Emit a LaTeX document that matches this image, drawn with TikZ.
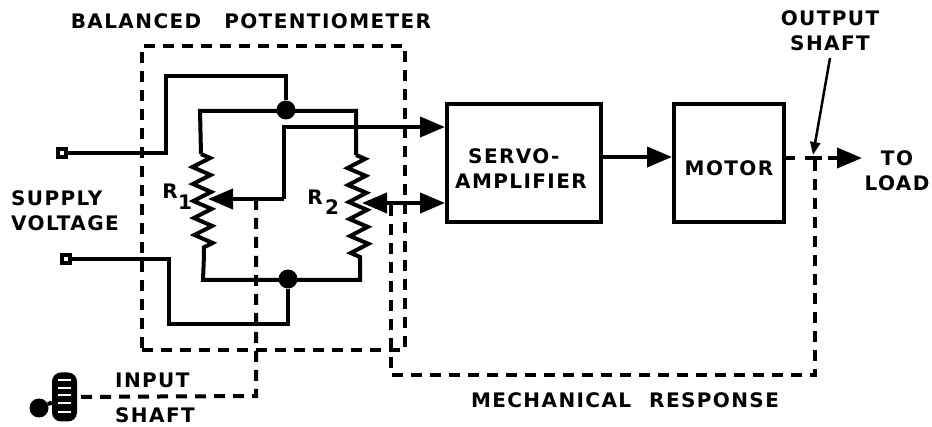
\documentclass[tikz,border=0pt]{standalone}
\usepackage{fontspec}
\setmainfont{DejaVu Sans}
\usetikzlibrary{arrows.meta, positioning, shapes.geometric, decorations.pathmorphing}
\newcommand{\labelfont}{\fontsize{20}{18}\selectfont\bfseries\addfontfeature{LetterSpace=7}}

\begin{document}
\begin{tikzpicture}[
    x=1pt, y=-1pt,
    block/.style={
        rectangle,
        draw=black,
        line width=4pt,
        minimum height=118pt,
        align=center,
        inner sep=0pt,
        font=\labelfont
    },
    wire/.style={line width=4pt, line join=miter},
    shaft/.style={line width=4pt, dash pattern=on 11pt off 8pt},
    arrow/.style={wire, -{Triangle[length=25pt, width=20pt]}},
    resistor/.style={wire, decorate, decoration={zigzag, segment length=17pt, amplitude=9pt}},
    joint/.style={circle, fill=black, inner sep=0pt, minimum size=19pt},
    terminal/.style={rectangle, draw=black, fill=white, line width=4pt, inner sep=0pt, minimum size=8pt},
    txt/.style={inner sep=0pt, align=left, font=\labelfont}
]
\useasboundingbox (0,0) rectangle (932,427);

% blocks
\node[block, minimum width=154pt, anchor=north west] (servo) at (445,102) {};
\node[block, minimum width=110pt, right=69pt of servo] (motor) {};
\node[txt, anchor=west] (servotext) at (455,169) {\hspace*{13pt}SERVO-\\[7pt]AMPLIFIER};
\node[txt] (motortext) at (729,168) {MOTOR};

% potentiometer box
\node[rectangle, draw=black, shaft, minimum width=263pt, minimum height=304pt, anchor=center, inner sep=0pt, outer sep=0pt] (pot) at (273.5,198) {};

% terminals and joints
\node[terminal] (supplya) at (62,153) {};
\node[terminal] (supplyb) at (66,259) {};
\node[joint] (topjoint) at (286,110) {};
\node[joint] (botjoint) at (288,279) {};

% resistors
\coordinate (r1top) at (201,154);
\coordinate (r1bot) at (204,255);
\coordinate (r2top) at (356,155);
\coordinate (r2bot) at (360,260);
\coordinate (r1wiper) at (208,199);
\coordinate (r2wiper) at (362,203);
\draw[resistor] (r1top) -- (r1bot);
\draw[resistor] (r2top) -- (r2bot);

% bridge wiring
\draw[wire] (supplya) -- (166,153) -- (166,76) -- (286,76) -- (topjoint);
\draw[wire] (r1top) -- (200,111) -- (356,111) -- (r2top);
\draw[wire] (r1bot) -- (203,280) -- (360,280) -- (r2bot);
\draw[wire] (supplyb) -- (169,259) -- (169,324) -- (288,324) -- (botjoint);

% signal lines
\draw[arrow] (284,199) -- (r1wiper);
\draw[arrow] (284,199) -- (284,127) -- (servo.west |- 0,127);
\draw[arrow] (400,203) -- (r2wiper);
\draw[arrow] (400,203) -- (servo.west |- 0,203);
\draw[arrow] (servo.east |- 0,157) -- (motor.west |- 0,157);

% mechanical linkage
\node[rectangle, rounded corners=9pt, fill=black, minimum width=25pt, minimum height=49pt, inner sep=0pt] (knob) at (64.5,397) {};
\foreach \y in {380,388,395,403,412}
    \draw[white, line width=2.5pt] (58,\y) -- (71,\y);
\node[circle, fill=black, inner sep=0pt, minimum size=19pt] (handle) at (39,408) {};
\draw[wire] (handle) -- (knob);
\draw[shaft] (256,199) -- (256,396) -- (knob);
\draw[shaft] (391,205) -- (391,375) -- (815,375) -- (815,158);
\draw[wire, dash pattern=on 9pt off 10pt on 17pt off 6pt] (motor.east |- 0,158) -- (828,158);
\draw[arrow] (828,158) -- (862,158);
\draw[line width=2.5pt, -{Triangle[length=13pt, width=10pt]}] (830,58) -- (813,155);

% labels
\node[txt] (title) at (251,21) {BALANCED\hspace{23pt}POTENTIOMETER};
\node[txt, anchor=west] (supply) at (11,211) {SUPPLY\\[7pt]VOLTAGE};
\node[txt] (rone) at (170,191) {R};
\node[txt] (ronesub) at (185,202) {1};
\node[txt] (rtwo) at (315,197) {R};
\node[txt] (rtwosub) at (332,207) {2};
\node[txt, anchor=west] (inputlabel) at (115,380) {INPUT};
\node[txt, anchor=west] (shaftlabel) at (115,415) {SHAFT};
\node[txt, align=center] (outputlabel) at (830,31) {OUTPUT\\[7pt]SHAFT};
\node[txt, align=center] (loadlabel) at (897,171) {TO\\[7pt]LOAD};
\node[txt] (mechanical) at (625,400) {MECHANICAL\hspace{18pt}RESPONSE};

\end{tikzpicture}
\end{document}
